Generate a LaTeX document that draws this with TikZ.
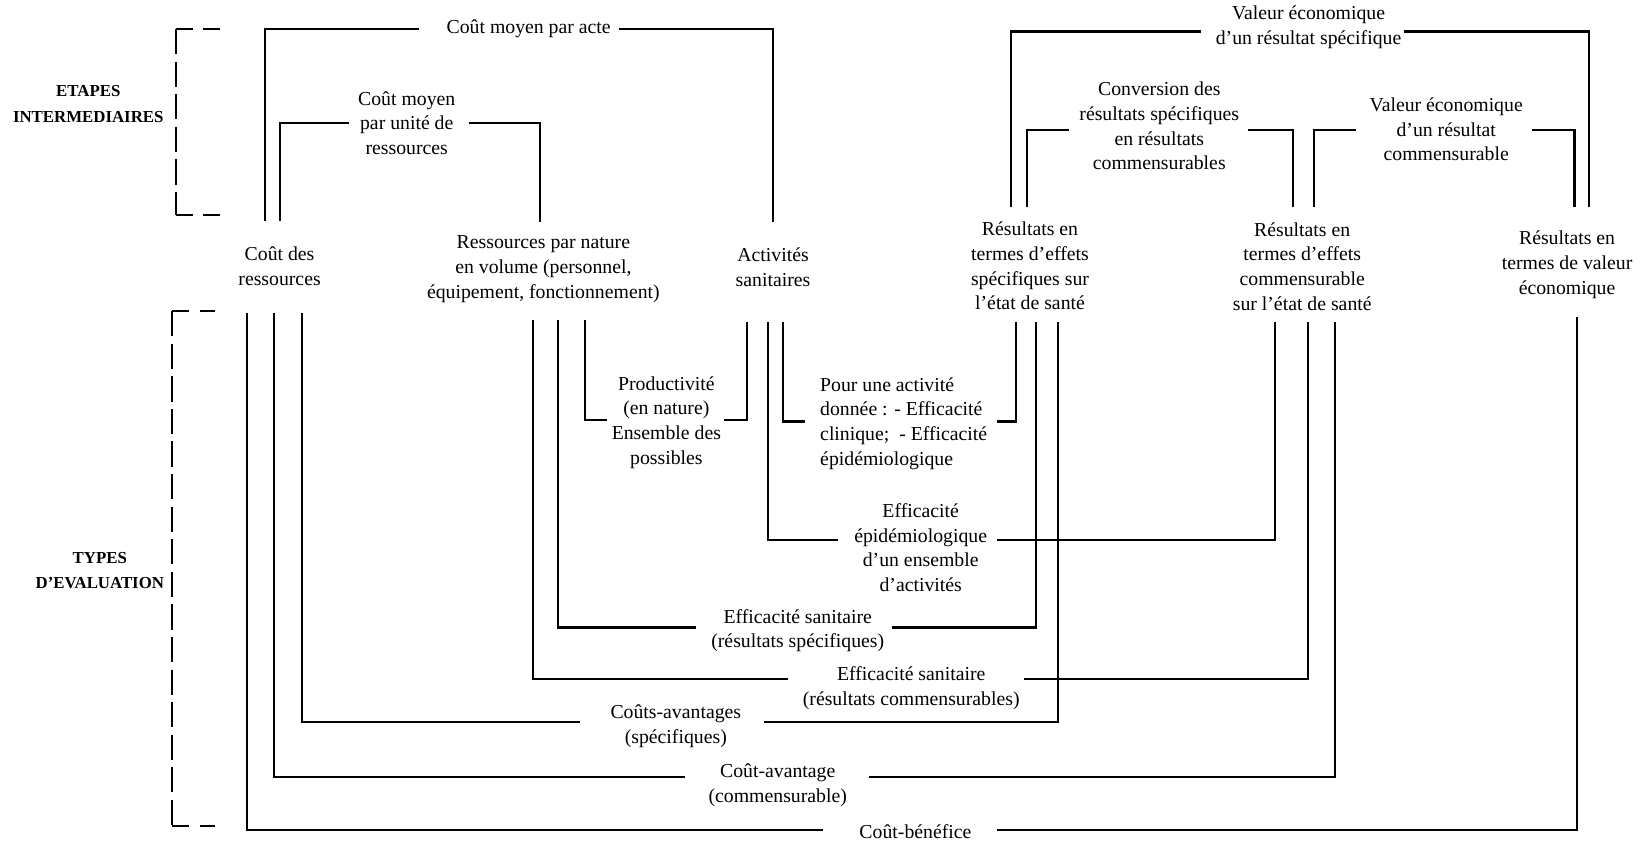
\documentclass[tikz,border=0pt]{standalone}
\usepackage{fontspec}
\setmainfont{Liberation Serif}
\begin{document}
\begin{tikzpicture}[x=0.5pt,y=-0.5pt,
  txt/.style={inner sep=0pt, align=center, font=\fontsize{9.4}{11.75}\selectfont},
  side/.style={inner sep=0pt, align=center, font=\fontsize{8}{12}\selectfont\bfseries},
  conn/.style={line width=1pt},
  hdash/.style={line width=1pt, dash pattern=on 8pt off 5pt},
  vdash/.style={line width=1pt, dash pattern=on 12pt off 3.5pt}]
\useasboundingbox (0,0) rectangle (1568,800);

% side labels and brackets
\node[side] (etapes) at (84,99) {ETAPES\\INTERMEDIAIRES};
\node[side] (types) at (95,543) {TYPES\\D'EVALUATION};
\draw[hdash] (167.5,27.6) -- (209,27.6);
\draw[vdash] (167.5,27.6) -- (167.5,204.6);
\draw[hdash] (167.5,204.6) -- (209,204.6);
\draw[hdash] (164,296) -- (205,296);
\draw[vdash] (164,296) -- (164,786);
\draw[hdash] (164,786) -- (205,786);

% main nodes
\node[txt] (cdr) at (266,253.5) {Coût des\\ressources};
\node[txt] (rpn) at (517,256) {Ressources par nature\\en volume (personnel,\\équipement, fonctionnement)};
\node[txt] (act) at (735.5,254) {Activités\\sanitaires};
\node[txt] (rspec) at (980,253) {Résultats en\\termes d'effets\\spécifiques sur\\l'état de santé};
\node[txt] (rcomm) at (1239,253.5) {Résultats en\\termes d'effets\\commensurable\\sur l'état de santé};
\node[txt] (rval) at (1491,252) {Résultats en\\termes de valeur\\économique};

% top labels
\node[txt] (cmpa) at (503,27.6) {Coût moyen par acte};
\node[txt] (cmpu) at (387,117) {Coût moyen\\par unité de\\ressources};
\node[txt] (vesp) at (1245,26) {Valeur économique\\d'un résultat spécifique};
\node[txt] (conv) at (1103,120) {Conversion des\\résultats spécifiques\\en résultats\\commensurables};
\node[txt] (vecm) at (1376,123) {Valeur économique\\d'un résultat\\commensurable};

% bottom labels
\node[txt] (prod) at (634,402) {Productivité\\(en nature)\\Ensemble des\\possibles};
\node[txt, align=left, anchor=west] (pour) at (780,403) {Pour une activité\\donnée : - Efficacité\\clinique;~ - Efficacité\\épidémiologique};
\node[txt] (effepi) at (876,521) {Efficacité\\épidémiologique\\d'un ensemble\\d'activités};
\node[txt] (effspec) at (759,600) {Efficacité sanitaire\\(résultats spécifiques)};
\node[txt] (effcomm) at (867,655) {Efficacité sanitaire\\(résultats commensurables)};
\node[txt] (cavs) at (643,691) {Coûts-avantages\\(spécifiques)};
\node[txt] (cavc) at (740,747) {Coût-avantage\\(commensurable)};
\node[txt] (cben) at (871,791) {Coût-bénéfice};

% connector end points at the main nodes
\coordinate (cdr-u1) at (252,210);
\coordinate (cdr-u2) at (266,210);
\coordinate (rpn-u) at (514,211);
\coordinate (act-u) at (735.5,211);
\coordinate (rspec-u1) at (962,197);
\coordinate (rspec-u2) at (977,197);
\coordinate (rcomm-u1) at (1230,197);
\coordinate (rcomm-u2) at (1250,197);
\coordinate (rval-u1) at (1498,197);
\coordinate (rval-u2) at (1512,197);
\coordinate (cdr-d1) at (235,298);
\coordinate (cdr-d2) at (261,298);
\coordinate (cdr-d3) at (287,298);
\coordinate (rpn-d1) at (507,304);
\coordinate (rpn-d2) at (531,304);
\coordinate (rpn-d3) at (557,304);
\coordinate (act-d1) at (711,306);
\coordinate (act-d2) at (730.5,306);
\coordinate (act-d3) at (745,306);
\coordinate (rspec-d1) at (967,306);
\coordinate (rspec-d2) at (986,306);
\coordinate (rspec-d3) at (1007,306);
\coordinate (rcomm-d1) at (1213,306);
\coordinate (rcomm-d2) at (1244.6,306);
\coordinate (rcomm-d3) at (1270,306);
\coordinate (rval-d) at (1500.6,302);

% connector end points at the labels
\coordinate (cmpa-w) at (399,27.6);
\coordinate (cmpa-e) at (589,27.6);
\coordinate (cmpu-w) at (332,117);
\coordinate (cmpu-e) at (446,117);
\coordinate (vesp-w) at (1143,30);
\coordinate (vesp-e) at (1336,30);
\coordinate (conv-w) at (1017,124);
\coordinate (conv-e) at (1187,124);
\coordinate (vecm-w) at (1290,124);
\coordinate (vecm-e) at (1458,124);
\coordinate (prod-w) at (578,400);
\coordinate (prod-e) at (689,400);
\coordinate (pour-w) at (766,401);
\coordinate (pour-e) at (949,401);
\coordinate (effepi-w) at (797,514);
\coordinate (effepi-e) at (949,514);
\coordinate (effspec-w) at (662,597);
\coordinate (effspec-e) at (849,597);
\coordinate (effcomm-w) at (749.6,646);
\coordinate (effcomm-e) at (974.7,646);
\coordinate (cavs-w) at (552,686.6);
\coordinate (cavs-e) at (727,686.6);
\coordinate (cavc-w) at (652,739);
\coordinate (cavc-e) at (827,739);
\coordinate (cben-w) at (783.5,790);
\coordinate (cben-e) at (949,790);

% top connectors
\draw[conn] (cdr-u1) |- (cmpa-w);
\draw[conn] (cmpa-e) -| (act-u);
\draw[conn] (cdr-u2) |- (cmpu-w);
\draw[conn] (cmpu-e) -| (rpn-u);
\draw[conn] (rspec-u1) |- (vesp-w);
\draw[conn] (vesp-e) -| (rval-u2);
\draw[conn] (rspec-u2) |- (conv-w);
\draw[conn] (conv-e) -| (rcomm-u1);
\draw[conn] (rcomm-u2) |- (vecm-w);
\draw[conn] (vecm-e) -| (rval-u1);

% bottom connectors
\draw[conn] (cdr-d1) |- (cben-w);
\draw[conn] (cben-e) -| (rval-d);
\draw[conn] (cdr-d2) |- (cavc-w);
\draw[conn] (cavc-e) -| (rcomm-d3);
\draw[conn] (cdr-d3) |- (cavs-w);
\draw[conn] (cavs-e) -| (rspec-d3);
\draw[conn] (rpn-d1) |- (effcomm-w);
\draw[conn] (effcomm-e) -| (rcomm-d2);
\draw[conn] (rpn-d2) |- (effspec-w);
\draw[conn] (effspec-e) -| (rspec-d2);
\draw[conn] (rpn-d3) |- (prod-w);
\draw[conn] (prod-e) -| (act-d1);
\draw[conn] (act-d3) |- (pour-w);
\draw[conn] (pour-e) -| (rspec-d1);
\draw[conn] (act-d2) |- (effepi-w);
\draw[conn] (effepi-e) -| (rcomm-d1);
\end{tikzpicture}
\end{document}
